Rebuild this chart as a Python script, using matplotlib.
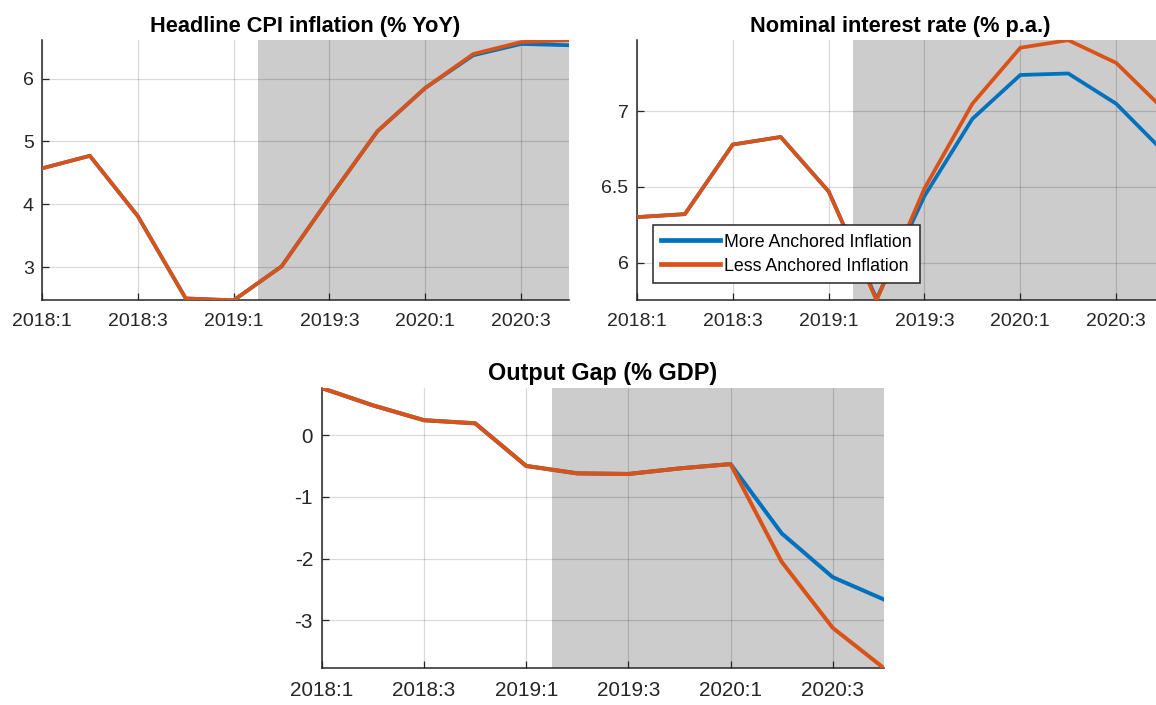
"""Anchored vs less anchored inflation scenarios: CPI, policy rate, output gap."""

import matplotlib

matplotlib.use("Agg")
import matplotlib.pyplot as plt
import numpy as np
from matplotlib.ticker import FuncFormatter, MultipleLocator

quarters = ["2018:1", "2018:2", "2018:3", "2018:4",
            "2019:1", "2019:2", "2019:3", "2019:4",
            "2020:1", "2020:2", "2020:3", "2020:4"]

cpi_more = [4.57, 4.77, 3.81, 2.50, 2.47, 3.01, 4.10, 5.16, 5.85, 6.37, 6.55, 6.53]
cpi_less = [4.57, 4.77, 3.81, 2.50, 2.47, 3.01, 4.10, 5.16, 5.85, 6.39, 6.58, 6.61]

rate_more = [6.30, 6.32, 6.78, 6.83, 6.47, 5.76, 6.44, 6.95, 7.24, 7.25, 7.05, 6.73]
rate_less = [6.30, 6.32, 6.78, 6.83, 6.47, 5.75, 6.49, 7.05, 7.42, 7.47, 7.32, 7.01]

gap_more = [0.76, 0.48, 0.24, 0.19, -0.50, -0.62, -0.63, -0.54, -0.47, -1.59, -2.30, -2.66]
gap_less = [0.76, 0.48, 0.24, 0.19, -0.50, -0.62, -0.63, -0.54, -0.47, -2.05, -3.12, -3.77]

# projection period starts halfway through 2019:1 -> 2019:2
forecast_start = 4.5

series_labels = ["More Anchored Inflation", "Less Anchored Inflation"]
titles = ["Headline CPI inflation (% YoY)", "Nominal interest rate (% p.a.)",
          "Output Gap (% GDP)"]

BLUE = "#0072BD"
ORANGE = "#D95319"
DARK = "#262626"

plt.rcParams["font.family"] = ["Liberation Sans", "DejaVu Sans"]
plt.rcParams["axes.unicode_minus"] = False

fig = plt.figure(figsize=(11.56, 7.05), dpi=100)
ax_cpi = fig.add_axes([0.0363, 0.574, 0.456, 0.369])
ax_rate = fig.add_axes([0.551, 0.574, 0.456, 0.369])
ax_gap = fig.add_axes([0.2785, 0.0525, 0.486, 0.397])

x = np.arange(len(quarters))
# the bottom panel is drawn about 7% larger in the original
panels = [
    (ax_cpi, cpi_more, cpi_less, 1.0, 1.0),
    (ax_rate, rate_more, rate_less, 0.5, 1.0),
    (ax_gap, gap_more, gap_less, 1.0, 1.07),
]

for (ax, more, less, step, scale), title in zip(panels, titles):
    ax.axvspan(forecast_start, x[-1], color="#cccccc", lw=0, zorder=1)
    ax.plot(x, more, color=BLUE, lw=2.7 * scale, label=series_labels[0], zorder=3)
    ax.plot(x, less, color=ORANGE, lw=2.7 * scale, label=series_labels[1], zorder=4)

    ax.set_xlim(x[0], x[-1])
    ax.set_ylim(min(min(more), min(less)), max(max(more), max(less)))
    ax.set_xticks(x[::2])
    ax.set_xticklabels(quarters[::2])
    ax.yaxis.set_major_locator(MultipleLocator(step))
    ax.yaxis.set_major_formatter(FuncFormatter(lambda v, _: f"{v:g}"))

    ax.grid(True, color="k", alpha=0.15, lw=0.9)
    for side in ("top", "right"):
        ax.spines[side].set_visible(False)
    for side in ("left", "bottom"):
        ax.spines[side].set_color(DARK)
        ax.spines[side].set_linewidth(1.1)
    ax.tick_params(direction="in", length=5, width=0.9, color=DARK,
                   labelcolor=DARK, labelsize=14 * scale)
    ax.tick_params(axis="x", pad=9 * scale)
    ax.tick_params(axis="y", pad=6 * scale)
    ax.set_title(title, fontsize=15.7 * scale, fontweight="bold", color="black",
                 pad=6)

leg = ax_rate.legend(loc="lower left", bbox_to_anchor=(0.031, 0.068),
                     borderaxespad=0, fontsize=12.8, handlelength=3.3,
                     handleheight=0.9, labelspacing=0.35, borderpad=0.45,
                     handletextpad=0.25, fancybox=False, framealpha=1)
leg.get_frame().set_edgecolor(DARK)
leg.get_frame().set_linewidth(1.1)
for line in leg.get_lines():
    line.set_linewidth(3.4)

fig.savefig("out.png", dpi=100)
